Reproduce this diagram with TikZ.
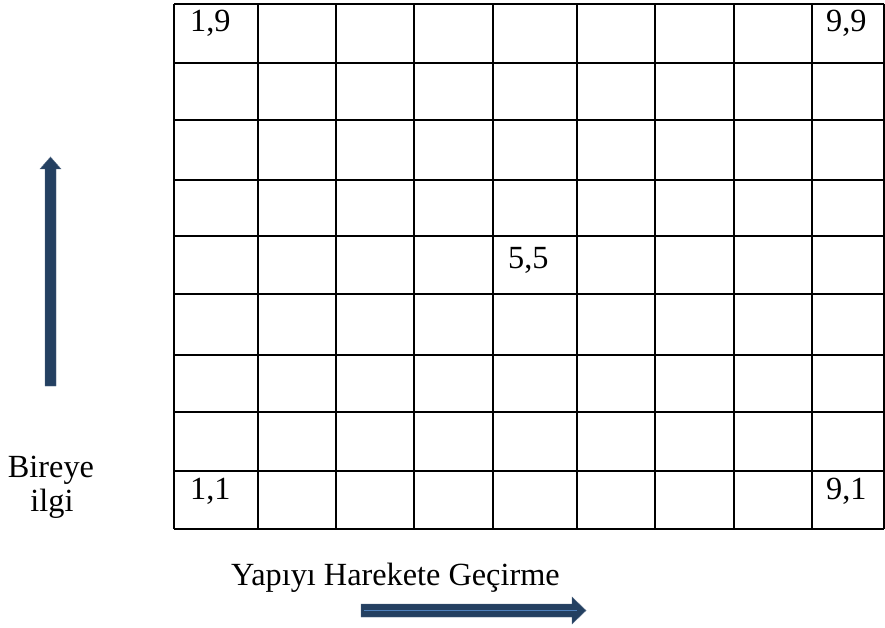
\documentclass[tikz,border=0pt]{standalone}
\usepackage{fontspec}
\setmainfont{Liberation Serif}
\definecolor{arrowdark}{RGB}{36,64,97}
\definecolor{arrowlight}{RGB}{79,129,189}
\begin{document}
\begin{tikzpicture}[x=1pt,y=-1pt,
  gridline/.style={line width=1.8pt,black},
  lbl/.style={anchor=base west,inner sep=0pt,font=\fontsize{32.3}{37}\selectfont},
  blockarrow/.style={fill=arrowdark,draw=arrowdark!80!white,line width=0.4pt}]
\useasboundingbox (0,0) rectangle (885,628);
% grid
\foreach \xx in {174,258,336,414,493,577,655,734,812,884}
  \draw[gridline] (\xx,4) -- (\xx,529);
\foreach \yy in {4,63,120,180,236,294,355,412,471,529}
  \draw[gridline] (174,\yy) -- (884,\yy);
% cell labels
\node[lbl] (c19) at (190,32) {1,9};
\node[lbl] (c99) at (826,32) {9,9};
\node[lbl] (c55) at (508,268) {5,5};
\node[lbl] (c11) at (190,499) {1,1};
\node[lbl] (c91) at (826,499) {9,1};
% axis labels
\node[anchor=base,inner sep=0pt,font=\fontsize{32.3}{37}\selectfont] (yl) at (51,477) {Bireye};
\node[anchor=base,inner sep=0pt,font=\fontsize{32.3}{37}\selectfont] (yl2) at (52,511) {ilgi};
\node[lbl] (xl) at (231,585) {Yapıyı Harekete Geçirme};
% vertical block arrow
\coordinate (vtip) at (50.5,157);
\fill[blockarrow] (45,386) -- (45,169) -- (40,169) -- (vtip) -- (61,169) -- (56,169) -- (56,386) -- cycle;
% horizontal block arrow
\coordinate (htip) at (586,610.5);
\fill[blockarrow] (361,604) -- (572,604) -- (572,597) -- (htip) -- (572,624) -- (572,617) -- (361,617) -- cycle;
\draw[arrowlight,line width=1.6pt] (364,610.5) -- (577,610.5);
\end{tikzpicture}
\end{document}
